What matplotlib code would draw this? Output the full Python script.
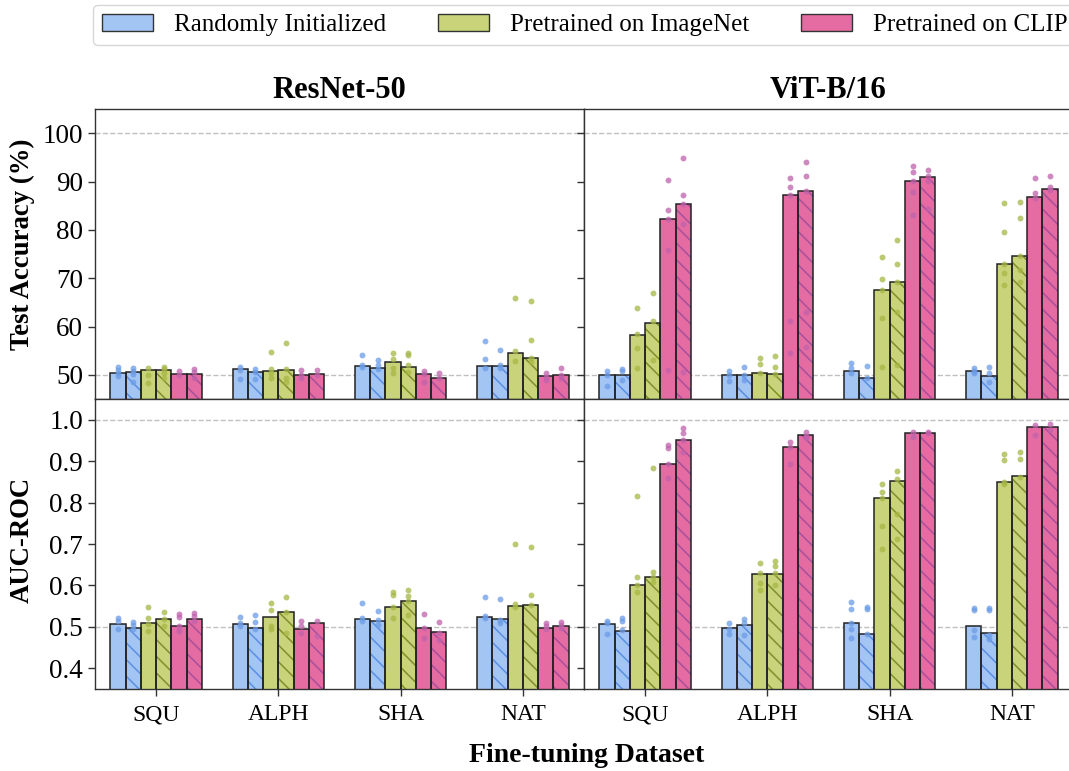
import matplotlib

matplotlib.use("Agg")
import matplotlib.pyplot as plt
import numpy as np
from matplotlib.patches import Patch

plt.rcParams["font.family"] = ["Liberation Serif", "DejaVu Serif"]
plt.rcParams["hatch.linewidth"] = 1.1

datasets = ["SQU", "ALPH", "SHA", "NAT"]
inits = ["Randomly Initialized", "Pretrained on ImageNet", "Pretrained on CLIP"]
models = ["ResNet-50", "ViT-B/16"]

# bar heights: rows = dataset, cols = (rand, rand-hatched, imnet, imnet-hatched, clip, clip-hatched)
acc_r50 = [[50.4, 50.6, 51.0, 51.0, 50.1, 50.1],
           [51.2, 50.5, 50.7, 51.0, 49.9, 50.1],
           [51.9, 51.5, 52.6, 51.7, 50.1, 49.4],
           [51.9, 51.9, 54.6, 53.4, 49.8, 49.9]]
acc_vit = [[50.0, 50.0, 58.3, 60.8, 82.2, 85.3],
           [50.0, 50.0, 50.3, 50.2, 87.3, 88.1],
           [50.7, 49.3, 67.6, 69.2, 90.1, 91.0],
           [50.8, 49.7, 73.0, 74.6, 86.8, 88.4]]
auc_r50 = [[0.506, 0.498, 0.509, 0.519, 0.502, 0.518],
           [0.506, 0.498, 0.523, 0.535, 0.494, 0.510],
           [0.520, 0.515, 0.548, 0.562, 0.497, 0.487],
           [0.524, 0.518, 0.551, 0.553, 0.498, 0.503]]
auc_vit = [[0.506, 0.491, 0.602, 0.621, 0.894, 0.952],
           [0.498, 0.505, 0.628, 0.628, 0.934, 0.963],
           [0.509, 0.482, 0.810, 0.853, 0.967, 0.967],
           [0.502, 0.484, 0.850, 0.863, 0.982, 0.982]]

# individual runs (dots), same layout as the bars
acc_r50_pts = [
    [[51.6, 51.0, 50.35, 49.8], [51.4, 50.7, 50.1, 48.6], [51.4, 50.0, 48.3],
     [51.7, 51.2, 50.35, 49.3], [50.7, 50.0], [51.2, 50.5, 49.3]],
    [[51.6, 51.0, 49.1], [51.2, 50.5, 49.1], [54.8, 51.2, 50.35, 49.3],
     [56.5, 51.2, 49.3, 48.6], [51.0, 50.0, 49.4], [51.0, 50.0]],
    [[54.1, 52.1, 51.6], [53.0, 52.1, 51.2], [54.6, 53.3, 51.4, 50.35],
     [54.6, 54.1, 52.1, 50.5], [50.7, 50.1, 48.6], [50.35, 49.3]],
    [[56.9, 53.2, 51.4], [55.2, 52.1, 51.4], [66.0, 55.0, 52.9],
     [65.2, 57.2, 53.4, 52.75], [50.35, 49.5, 49.0], [51.4, 50.0, 49.3]],
]
acc_vit_pts = [
    [[50.7, 50.0, 47.7], [51.2, 50.7, 49.0], [63.8, 58.5, 55.6, 51.4],
     [66.9, 61.1, 53.1], [90.4, 84.1, 82.2, 75.8, 51.0], [94.8, 87.3, 85.3, 81.3, 50.6]],
    [[50.7, 50.0, 48.7], [51.6, 50.0, 49.0], [53.4, 52.2, 50.3],
     [54.0, 51.7, 50.2], [90.8, 88.8, 87.3, 61.2, 54.5], [94.0, 91.2, 88.1, 63.0, 55.8]],
    [[52.4, 51.4, 50.35], [51.9, 49.3], [74.4, 69.8, 67.6, 61.7, 51.7],
     [77.8, 72.9, 69.2, 63.0, 52.1], [93.2, 91.9, 90.2, 87.8, 83.1], [92.3, 91.1, 90.2, 84.4]],
    [[51.4, 50.7, 50.3], [51.7, 50.3, 48.5], [85.6, 79.5, 73.0, 71.0, 68.5],
     [85.7, 82.4, 74.6, 71.7, 69.2], [90.8, 87.6, 86.6], [91.2, 88.8, 88.3]],
]
auc_r50_pts = [
    [[0.522, 0.513, 0.494], [0.511, 0.505, 0.494], [0.547, 0.522, 0.506, 0.489],
     [0.537, 0.519, 0.501], [0.532, 0.525, 0.503, 0.489], [0.533, 0.527, 0.513]],
    [[0.525, 0.509, 0.503], [0.529, 0.511, 0.495], [0.557, 0.541, 0.501, 0.495],
     [0.572, 0.537, 0.486], [0.513, 0.502, 0.486], [0.513, 0.479]],
    [[0.558, 0.521, 0.513], [0.538, 0.517, 0.505], [0.583, 0.576, 0.549, 0.522],
     [0.590, 0.575, 0.563, 0.529], [0.531, 0.498, 0.473], [0.511, 0.486, 0.469]],
    [[0.571, 0.527, 0.521], [0.567, 0.517, 0.510], [0.700, 0.554, 0.549],
     [0.692, 0.577, 0.553], [0.509, 0.501, 0.494], [0.511, 0.505, 0.497]],
]
auc_vit_pts = [
    [[0.514, 0.509, 0.482], [0.521, 0.513, 0.493], [0.815, 0.620, 0.601, 0.585],
     [0.883, 0.633, 0.621, 0.609], [0.940, 0.932, 0.894, 0.860], [0.979, 0.969, 0.952, 0.921]],
    [[0.509, 0.495, 0.482], [0.519, 0.510, 0.480], [0.653, 0.629, 0.607, 0.588],
     [0.660, 0.647, 0.629, 0.601], [0.947, 0.934, 0.893], [0.970, 0.961, 0.955]],
    [[0.560, 0.543, 0.509, 0.496, 0.474], [0.547, 0.544, 0.482], [0.845, 0.825, 0.810, 0.744, 0.687],
     [0.876, 0.856, 0.772, 0.711], [0.971, 0.959], [0.971, 0.967]],
    [[0.545, 0.541, 0.493, 0.475], [0.545, 0.541, 0.480, 0.470], [0.917, 0.902, 0.850, 0.845],
     [0.921, 0.906, 0.861], [0.987, 0.963], [0.989, 0.975]],
]

fill_c = ["#a3c5f4", "#c9d47a", "#e46ca3"]
hatch_c = ["#5b8fe0", "#7f8f2c", "#a8509a"]
dot_c = ["#6a9ce6", "#a6b744", "#c062ac"]

W, H = 1069, 771
fig = plt.figure(figsize=(W / 100, H / 100), dpi=100)


def px_axes(x0, y0, x1, y1):
    return fig.add_axes([x0 / W, 1 - y1 / H, (x1 - x0) / W, (y1 - y0) / H])


panels = [
    (px_axes(95, 109, 584, 399), acc_r50, acc_r50_pts, 0, 0),
    (px_axes(584, 109, 1073, 399), acc_vit, acc_vit_pts, 0, 1),
    (px_axes(95, 399, 584, 689), auc_r50, auc_r50_pts, 1, 0),
    (px_axes(584, 399, 1073, 689), auc_vit, auc_vit_pts, 1, 1),
]

w = 0.125
x = np.arange(len(datasets))
for ax, bars, pts, row, col in panels:
    bars = np.array(bars)
    for j in range(6):
        c, hatched = j // 2, j % 2
        xj = x + (j - 2.5) * w
        if hatched:
            ax.bar(xj, bars[:, j], w, color=fill_c[c], edgecolor=hatch_c[c],
                   hatch="\\\\", lw=0, zorder=2)
        else:
            ax.bar(xj, bars[:, j], w, color=fill_c[c], lw=0, zorder=2)
        ax.bar(xj, bars[:, j], w, fill=False, edgecolor="#222222", lw=1.1, zorder=3)
        for d in range(len(datasets)):
            vals = pts[d][j]
            ax.scatter(np.full(len(vals), xj[d]), vals, s=18, color=dot_c[c],
                       alpha=0.75, lw=0, zorder=4)

    ax.set_xlim(-0.5, 3.5)
    if row == 0:
        ax.set_ylim(45, 105)
        ax.set_yticks([50, 60, 70, 80, 90, 100])
        for ref in (50, 100):
            ax.axhline(ref, color="#c0c0c0", ls="--", lw=1.0, zorder=0)
        ax.set_xticks([])
        ax.set_title(models[col], fontsize=22, fontweight="bold", pad=8)
    else:
        ax.set_ylim(0.35, 1.05)
        ax.set_yticks([0.4, 0.5, 0.6, 0.7, 0.8, 0.9, 1.0])
        ax.set_yticklabels([f"{t:.1f}" for t in [0.4, 0.5, 0.6, 0.7, 0.8, 0.9, 1.0]])
        for ref in (0.5, 1.0):
            ax.axhline(ref, color="#c0c0c0", ls="--", lw=1.0, zorder=0)
        ax.set_xticks(x)
        ax.set_xticklabels(datasets)
    ax.tick_params(direction="out", length=5, width=1, labelsize=19.5, color="#333333")
    ax.tick_params(axis="x", labelsize=17, pad=6)
    if col == 1:
        ax.tick_params(labelleft=False)
    for s in ax.spines.values():
        s.set_color("#333333")
        s.set_linewidth(1.0)

fig.text(22 / W, 1 - 244 / H, "Test Accuracy (%)", rotation=90, ha="center", va="center",
         fontsize=19.3, fontweight="bold")
fig.text(22 / W, 1 - 540 / H, "AUC-ROC", rotation=90, ha="center", va="center",
         fontsize=19.3, fontweight="bold")
fig.text(587 / W, 1 - 755 / H, "Fine-tuning Dataset", ha="center", va="center",
         fontsize=20, fontweight="bold")

handles = [Patch(facecolor=fill_c[i], edgecolor="#333333", lw=1.0) for i in range(3)]
fig.legend(handles, inits, loc="upper left", bbox_to_anchor=(93 / W, 1 - 5 / H), ncol=3,
           fontsize=18, frameon=True, fancybox=True, edgecolor="#cccccc",
           handlelength=2.05, handleheight=0.7, handletextpad=0.85, columnspacing=2.05,
           borderpad=0.35, borderaxespad=0)

fig.savefig("out.png", dpi=100)
